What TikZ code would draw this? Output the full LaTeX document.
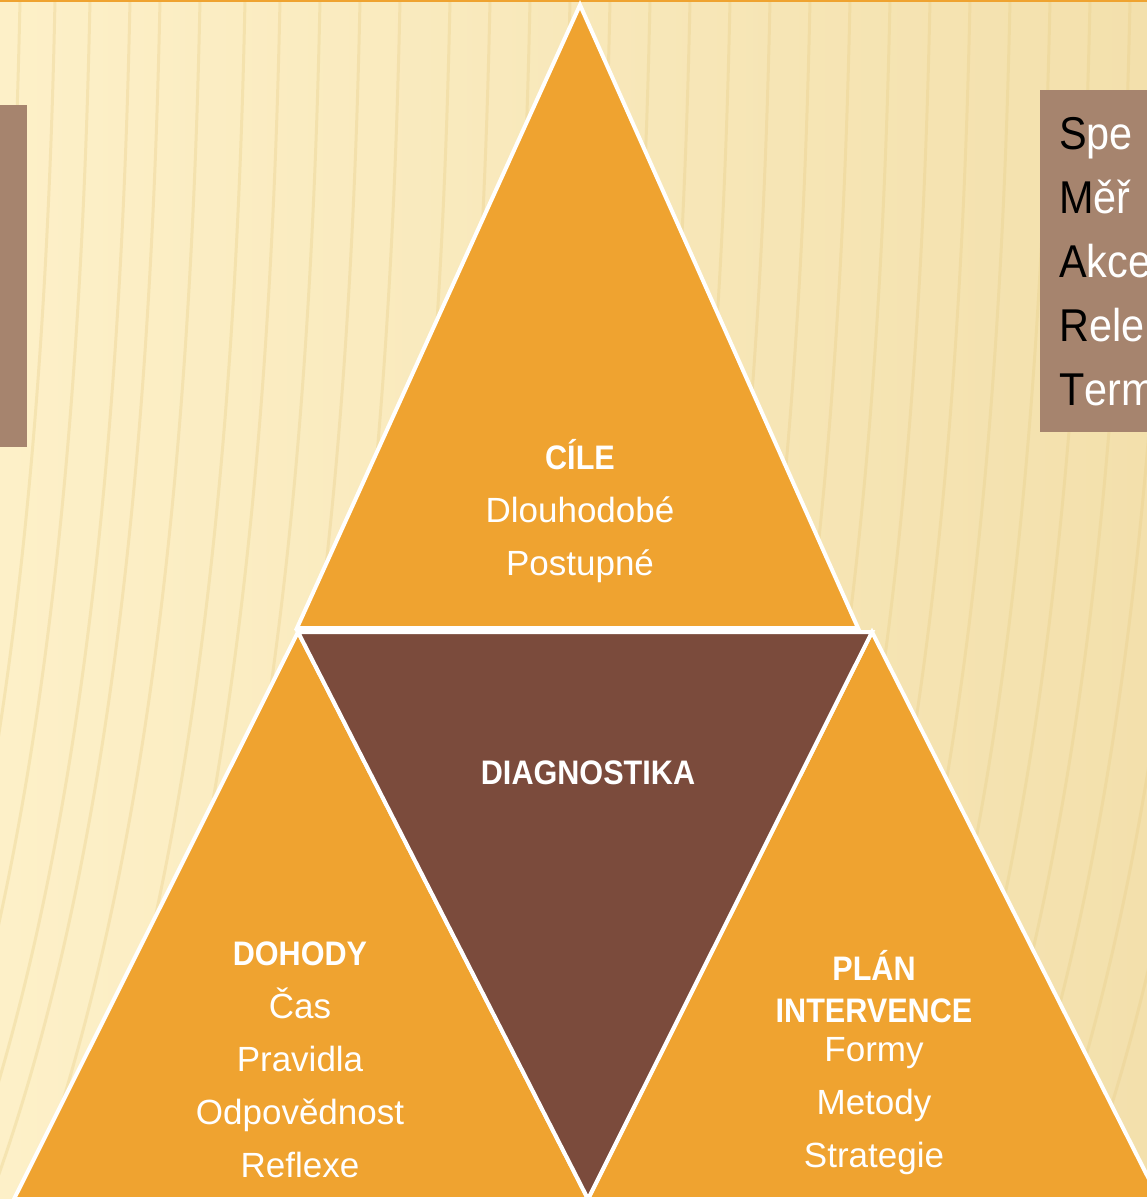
\documentclass[tikz,border=0pt]{standalone}
\usepackage{fontspec}
\setmainfont[FakeStretch=0.9]{Liberation Sans}
\newfontfamily\itemfont{Liberation Sans}
\definecolor{triorange}{HTML}{EFA330}
\definecolor{diagbrown}{HTML}{7B4B3C}
\definecolor{cream}{HTML}{FDF0C8}
\definecolor{creamdark}{HTML}{F3E0AC}
\definecolor{stripe}{HTML}{E8CE88}
\definecolor{boxbrown}{HTML}{A6846E}

\begin{document}
\begin{tikzpicture}[x=1pt,y=-1pt]
  \tikzstyle{every node}+=[inner sep=0pt, anchor=base]
  \tikzstyle{tri}=[fill=triorange, draw=white, line width=4pt, line join=miter]
  \tikzstyle{head}=[text=white, font=\fontsize{34}{34}\selectfont\bfseries]
  \tikzstyle{item}=[text=white, font=\itemfont\fontsize{35}{35}\selectfont]
  \tikzstyle{smart}=[text=white, anchor=base west, font=\fontsize{46}{46}\selectfont]
  \useasboundingbox (0,0) rectangle (1147,1199);
  \clip (0,0) rectangle (1147,1199);
  % background
  \shade [left color=cream, right color=creamdark] (0,0) rectangle (1147,1199);
  \foreach \x in {20,55,90,130,160,200,245,280,320,360,400,450,490,530,570,610,650,690,730,770,810,850,890,930,970,1010,1050,1090,1130,1170,1210,1250}
    \draw [stripe, opacity=0.35, line width=3pt] (\x,0) .. controls (\x-10,500) and (\x-60,900) .. (\x-170,1199);
  \draw [triorange, line width=2.5pt] (0,0.5) -- (1147,0.5);
  % side boxes
  \fill [boxbrown] (0,105) rectangle (27,447);
  \fill [boxbrown] (1040,90) rectangle (1160,432);
  % triangle corners
  \coordinate (topapex) at (580,5);
  \coordinate (topleft) at (297,628);
  \coordinate (topright) at (858,628);
  \coordinate (midleft) at (298,632);
  \coordinate (midright) at (872,632);
  \coordinate (midbottom) at (588,1199);
  \coordinate (leftbase) at (14,1199);
  \coordinate (rightbase) at (1159,1199);
  % triangles
  \draw [tri] (topapex) -- (topright) -- (topleft) -- cycle;
  \draw [tri] (midleft) -- (leftbase) -- (midbottom) -- cycle;
  \draw [tri] (midright) -- (midbottom) -- (rightbase) -- cycle;
  \draw [tri, fill=diagbrown] (midleft) -- (midright) -- (midbottom) -- cycle;
  % texts
  \node [head] (cile) at (580,469) {CÍLE};
  \node [item] (dlouhodobe) at (580,522) {Dlouhodobé};
  \node [item] (postupne) at (580,575) {Postupné};
  \node [head] (diagnostika) at (588,784) {DIAGNOSTIKA};
  \node [head] (dohody) at (300,965) {DOHODY};
  \node [item] (cas) at (300,1018) {Čas};
  \node [item] (pravidla) at (300,1071) {Pravidla};
  \node [item] (odpovednost) at (300,1124) {Odpovědnost};
  \node [item] (reflexe) at (300,1177) {Reflexe};
  \node [head] (plan) at (874,980) {PLÁN};
  \node [head] (intervence) at (874,1022) {INTERVENCE};
  \node [item] (formy) at (874,1061) {Formy};
  \node [item] (metody) at (874,1114) {Metody};
  \node [item] (strategie) at (874,1167) {Strategie};
  \node [smart] (spe) at (1059,149) {\textcolor{black}{S}pe};
  \node [smart] (mer) at (1059,213) {\textcolor{black}{M}ěř};
  \node [smart] (akce) at (1059,277) {\textcolor{black}{A}kce};
  \node [smart] (rele) at (1059,341) {\textcolor{black}{R}ele};
  \node [smart] (term) at (1059,405) {\textcolor{black}{T}erm};
\end{tikzpicture}
\end{document}
